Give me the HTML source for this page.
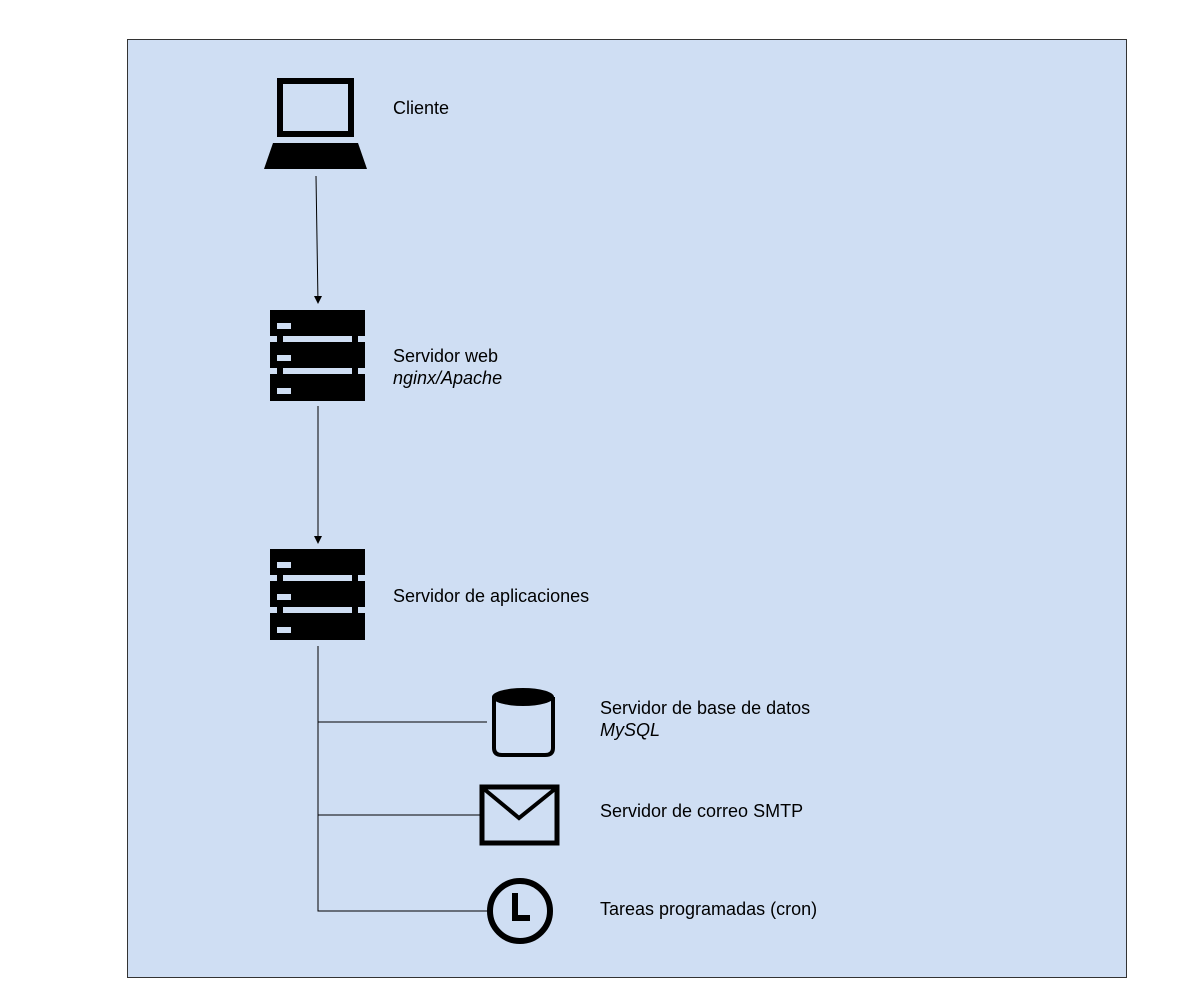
<!DOCTYPE html>
<html><head><meta charset="utf-8"><style>
body{margin:0;background:#fff;width:1194px;height:993px;overflow:hidden;font-family:"Liberation Sans",sans-serif}
.t{position:absolute;font-size:18px;color:#000;line-height:22px}
</style></head><body>
<div style="position:absolute;left:127px;top:39px;width:998px;height:937px;background:#cfdef3;border:1px solid #333"></div>
<svg style="position:absolute;left:0;top:0" width="1194" height="993">
<rect x="280" y="81" width="71" height="53" fill="none" stroke="#000" stroke-width="6"/>
<path d="M273,143 L358,143 L367,169 L264,169z" fill="#000"/>
<g id="s">
<rect x="270" y="310" width="95" height="26" fill="#000"/>
<rect x="270" y="342" width="95" height="26" fill="#000"/>
<rect x="270" y="374" width="95" height="27" fill="#000"/>
<rect x="277" y="334" width="6" height="10" fill="#000"/><rect x="352" y="334" width="6" height="10" fill="#000"/>
<rect x="277" y="366" width="6" height="10" fill="#000"/><rect x="352" y="366" width="6" height="10" fill="#000"/>
<rect x="277" y="323" width="14" height="6" fill="#cfdef3"/>
<rect x="277" y="355" width="14" height="6" fill="#cfdef3"/>
<rect x="277" y="388" width="14" height="6" fill="#cfdef3"/>
</g>
<use href="#s" transform="translate(0,239)"/>
<line x1="316" y1="176" x2="318" y2="303" stroke="#000" stroke-width="1"/>
<path d="M314,296 L322,296 L318,304z" fill="#000"/>
<line x1="318" y1="406" x2="318" y2="543" stroke="#000" stroke-width="1"/>
<path d="M314,536 L322,536 L318,544z" fill="#000"/>
<path d="M318,646 V911 H487 M318,722 H487 M318,815 H480" fill="none" stroke="#000" stroke-width="1"/>
<path d="M494,697 V748 Q494,755 502,755 H545 Q553,755 553,748 V697" fill="none" stroke="#000" stroke-width="4"/>
<ellipse cx="523" cy="697" rx="31" ry="9" fill="#000"/>
<rect x="482" y="787" width="75" height="56" fill="none" stroke="#000" stroke-width="5"/>
<path d="M484,789 L519,818 L555,789" fill="none" stroke="#000" stroke-width="4"/>
<circle cx="520" cy="911" r="30" fill="none" stroke="#000" stroke-width="6"/>
<path d="M515,893 V918 H530" fill="none" stroke="#000" stroke-width="6"/>
</svg>
<div class="t" style="left:393px;top:97px">Cliente</div>
<div class="t" style="left:393px;top:345px">Servidor web<br><i>nginx/Apache</i></div>
<div class="t" style="left:393px;top:585px">Servidor de aplicaciones</div>
<div class="t" style="left:600px;top:697px">Servidor de base de datos<br><i>MySQL</i></div>
<div class="t" style="left:600px;top:800px">Servidor de correo SMTP</div>
<div class="t" style="left:600px;top:898px">Tareas programadas (cron)</div>
</body></html>
